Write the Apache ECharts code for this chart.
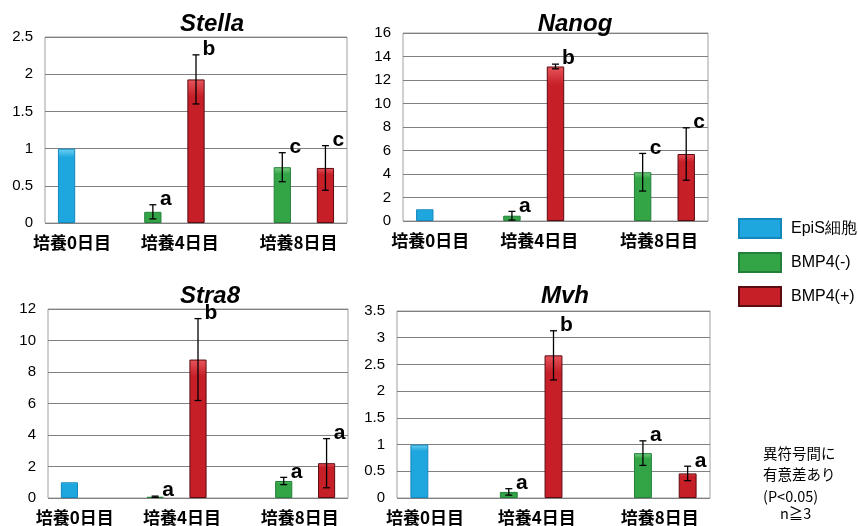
<!DOCTYPE html>
<html>
<head>
<meta charset="utf-8">
<script src="https://cdn.jsdelivr.net/npm/echarts@6/dist/echarts.min.js"></script>
<style>
  html, body { margin: 0; padding: 0; background: #fff; }
  #chart { width: 858px; height: 526px; }
</style>
</head>
<body>
<div id="chart"></div>
<script>
// slot layout shared by all panels: 7 equal slots, bars sit in 0,2,3,5,6
const slots = ['s0', 's1', 's2', 's3', 's4', 's5', 's6'];
const barSlot = [0, 2, 3, 5, 6];
const barGroup = [0, 1, 2, 1, 2];
const groupNames = ['EpiS細胞', 'BMP4(-)', 'BMP4(+)'];
const dayLabels = ['培養0日目', '培養4日目', '培養8日目'];
const dayLabelAt = [0.125, 2.625, 5.375];

// values: mean, error (SD), significance letter
const stellaMean = [1.00, 0.15, 1.93, 0.75, 0.74];
const stellaErr = [0, 0.095, 0.33, 0.195, 0.30];
const stellaSig = ['', 'a', 'b', 'c', 'c'];

const nanogMean = [1.00, 0.45, 13.15, 4.15, 5.70];
const nanogErr = [0, 0.37, 0.20, 1.60, 2.23];
const nanogSig = ['', 'a', 'b', 'c', 'c'];

const stra8Mean = [1.00, 0.08, 8.79, 1.08, 2.21];
const stra8Err = [0, 0.04, 2.60, 0.23, 1.56];
const stra8Sig = ['', 'a', 'b', 'a', 'a'];

const mvhMean = [1.00, 0.114, 2.67, 0.84, 0.46];
const mvhErr = [0, 0.06, 0.46, 0.23, 0.135];
const mvhSig = ['', 'a', 'b', 'a', 'a'];

const panels = [
	{title: 'Stella', mean: stellaMean, err: stellaErr, sig: stellaSig, max: 2.5, step: 0.5,
		grid: {left: 45, top: 37, width: 302, height: 186}, titleX: 207, titleY: 7},
	{title: 'Nanog', mean: nanogMean, err: nanogErr, sig: nanogSig, max: 16, step: 2,
		grid: {left: 403, top: 33, width: 305, height: 188}, titleX: 570, titleY: 7},
	{title: 'Stra8', mean: stra8Mean, err: stra8Err, sig: stra8Sig, max: 12, step: 2,
		grid: {left: 48, top: 309, width: 300, height: 198}, titleX: 205, titleY: 279},
	{title: 'Mvh', mean: mvhMean, err: mvhErr, sig: mvhSig, max: 3.5, step: 0.5,
		grid: {left: 397, top: 311, width: 313, height: 194}, titleX: 560, titleY: 279}
];

const barColors = [
	{fill: ['#6fd0f2', '#1ea6df'], edge: '#1488bd'},
	{fill: ['#7ccf86', '#33a546'], edge: '#23803a'},
	{fill: ['#e8555b', '#c61f28'], edge: '#5a0c10'}
];

const grad = c => new echarts.graphic.LinearGradient(0, 0, 0, 1, [
	{offset: 0, color: c.fill[0]},
	{offset: 0.12, color: c.fill[1]},
	{offset: 1, color: c.fill[1]}
]);

const chart = echarts.init(document.getElementById('chart'));

const grids = [], xAxes = [], yAxes = [], series = [], titles = [];

panels.forEach((p, i) => {
	grids.push(Object.assign({show: true, borderColor: '#a0a0a0', borderWidth: 1}, p.grid));
	titles.push({
		text: p.title, left: p.titleX, top: p.titleY, textAlign: 'center',
		textStyle: {fontFamily: 'Liberation Sans', fontStyle: 'italic', fontWeight: 'bold', fontSize: 24, color: '#000'}
	});
	// category slots for bars
	xAxes.push({
		type: 'category', gridIndex: i, data: slots,
		axisLine: {show: false}, axisTick: {show: false}, axisLabel: {show: false}
	});
	// label-only axis for the day names
	xAxes.push({
		type: 'value', gridIndex: i, min: -0.5, max: 6.5, interval: 0.125, position: 'bottom',
		axisLine: {show: false}, axisTick: {show: false}, splitLine: {show: false},
		axisLabel: {
			margin: 11, color: '#000', fontFamily: 'Noto Sans CJK JP', fontWeight: 'bold', fontSize: 17,
			showMinLabel: false, showMaxLabel: false,
			formatter: v => {
				const k = dayLabelAt.findIndex(d => Math.abs(d - v) < 1e-6);
				return k >= 0 ? dayLabels[k] : '';
			}
		}
	});
	yAxes.push({
		type: 'value', gridIndex: i, min: 0, max: p.max, interval: p.step,
		axisLine: {show: false}, axisTick: {show: false},
		splitLine: {lineStyle: {color: '#808080', width: 1}},
		axisLabel: {margin: 12, color: '#000', fontFamily: 'Liberation Sans', fontSize: 15}
	});

	groupNames.forEach((name, g) => {
		const data = slots.map(() => '-');
		p.mean.forEach((m, k) => {
			if (barGroup[k] === g) data[barSlot[k]] = m;
		});
		series.push({
			name, type: 'bar', stack: 'p' + i, xAxisIndex: i * 2, yAxisIndex: i,
			barWidth: '40%', data,
			itemStyle: {color: grad(barColors[g]), borderColor: barColors[g].edge, borderWidth: 1}
		});
	});

	series.push({
		type: 'custom', xAxisIndex: i * 2, yAxisIndex: i, z: 5,
		data: p.mean.map((m, k) => [barSlot[k], m, p.err[k], p.sig[k]]),
		renderItem: (params, api) => {
			const x = api.value(0), m = api.value(1), e = api.value(2), s = api.value(3);
			const top = api.coord([x, m + e]);
			const bot = api.coord([x, m - e]);
			const children = [];
			if (e > 0) {
				const st = {stroke: '#000', lineWidth: 1.3};
				children.push(
					{type: 'line', shape: {x1: top[0], y1: top[1], x2: bot[0], y2: bot[1]}, style: st},
					{type: 'line', shape: {x1: top[0] - 3.5, y1: top[1], x2: top[0] + 3.5, y2: top[1]}, style: st},
					{type: 'line', shape: {x1: bot[0] - 3.5, y1: bot[1], x2: bot[0] + 3.5, y2: bot[1]}, style: st}
				);
			}
			if (s) {
				children.push({
					type: 'text', x: top[0] + 13, y: top[1] + 5,
					style: {text: s, fill: '#000', font: 'bold 21px "Liberation Sans"', align: 'center', verticalAlign: 'bottom'}
				});
			}
			return {type: 'group', children};
		}
	});
});

const noteStyle = {fill: '#000', font: '14.5px "Noto Sans CJK JP"', verticalAlign: 'middle'};

chart.setOption({
	animation: false,
	title: titles,
	grid: grids,
	xAxis: xAxes,
	yAxis: yAxes,
	legend: {
		data: groupNames, orient: 'vertical', left: 733, top: 213,
		itemWidth: 42, itemHeight: 19, itemGap: 13, icon: 'rect',
		textStyle: {fontFamily: 'Liberation Sans', fontSize: 16, color: '#000', padding: [0, 0, 0, 5]}
	},
	graphic: [
		{type: 'text', left: 763, top: 446, style: Object.assign({text: '異符号間に'}, noteStyle)},
		{type: 'text', left: 763, top: 467, style: Object.assign({text: '有意差あり'}, noteStyle)},
		{type: 'text', left: 763, top: 489, style: Object.assign({text: '(P<0.05)'}, noteStyle)},
		{type: 'text', left: 780, top: 506, style: Object.assign({text: 'n≧3'}, noteStyle)}
	],
	series
});
</script>
</body>
</html>
